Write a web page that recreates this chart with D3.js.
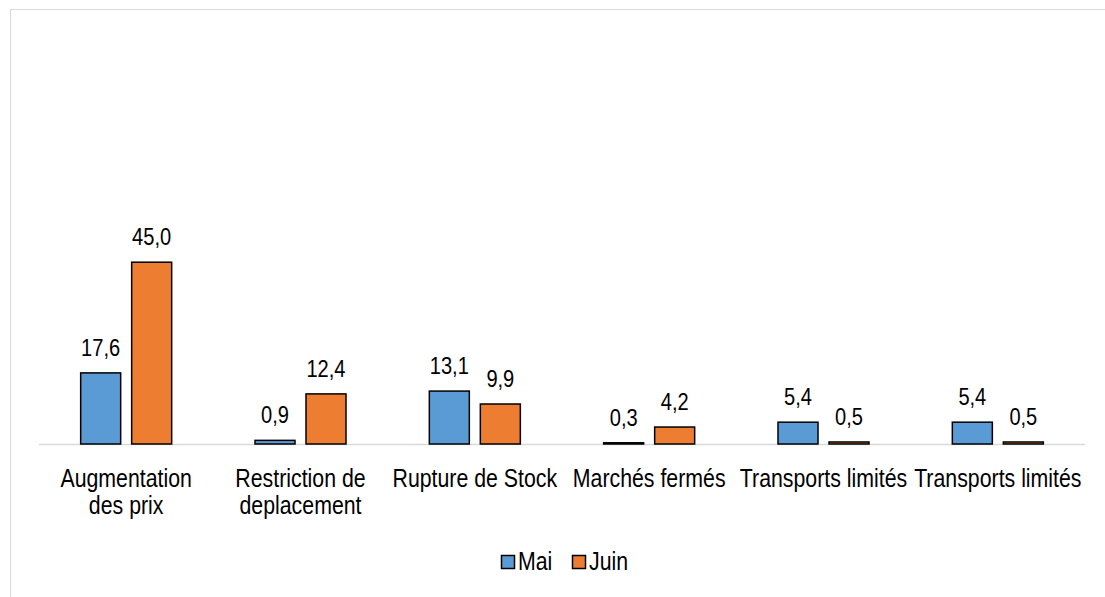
<!DOCTYPE html>
<html><head><meta charset="utf-8">
<script src="https://cdn.jsdelivr.net/npm/d3@7"></script>
<style>html,body{margin:0;padding:0;background:#fff;}svg{display:block;}</style>
</head><body>
<svg id="chart" width="1105" height="597"></svg>
<script>
const categories = ["Augmentation\ndes prix", "Restriction de\ndeplacement", "Rupture de Stock", "Marchés fermés", "Transports limités", "Transports limités "];
const seriesNames = ["Mai", "Juin"];
const maiValues = [17.6, 0.9, 13.1, 0.3, 5.4, 5.4];
const juinValues = [45.0, 12.4, 9.9, 4.2, 0.5, 0.5];
const seriesColors = ["#5b9bd5", "#ed7d31"];

const svg = d3.select("#chart");
// Narrow font emulated by horizontally condensing Liberation Sans
const font = "'Liberation Sans', Arial, sans-serif";
const narrow = 0.82;
const fsCat = 26;
const fsVal = 24.5;

// outer border
svg.append("rect").attr("x", 10.5).attr("y", 9.5).attr("width", 1200).attr("height", 700)
  .attr("fill", "none").attr("stroke", "#d9d9d9").attr("stroke-width", 1);

const baseY = 444;
const y = d3.scaleLinear().domain([0, 50]).range([baseY, baseY - 50 * 4.04]);
const x0 = d3.scaleBand().domain(d3.range(categories.length)).range([39, 1085]).padding(0);
const inner = 91;
const x1 = d3.scaleBand().domain(seriesNames).range([(x0.bandwidth() - inner) / 2, (x0.bandwidth() + inner) / 2]).paddingInner(11 / 51);

const data = categories.map((c, i) => ({cat: i, vals: [maiValues[i], juinValues[i]]}));

// baseline
svg.append("line").attr("x1", 39).attr("x2", 1085).attr("y1", baseY + 0.5).attr("y2", baseY + 0.5)
  .attr("stroke", "#d9d9d9").attr("stroke-width", 1.5);

const g = svg.selectAll("g.cat").data(data).enter().append("g")
  .attr("transform", d => `translate(${x0(d.cat)},0)`);

g.selectAll("rect").data(d => d.vals.map((v, k) => ({s: seriesNames[k], v, k}))).enter().append("rect")
  .attr("x", d => x1(d.s))
  .attr("y", d => y(d.v))
  .attr("width", x1.bandwidth())
  .attr("height", d => baseY - y(d.v))
  .attr("fill", d => seriesColors[d.k])
  .attr("stroke", "#000").attr("stroke-width", 1.5);

g.selectAll("text.val").data(d => d.vals.map((v, k) => ({s: seriesNames[k], v, k}))).enter().append("text")
  .attr("transform", d => `translate(${x1(d.s) + x1.bandwidth() / 2},${y(d.v) - 17}) scale(${narrow},1)`)
  .attr("text-anchor", "middle")
  .attr("font-family", font).attr("font-size", fsVal).attr("fill", "#000")
  .text(d => d3.format(".1f")(d.v).replace(".", ","));

// category labels
const xAxis = d3.axisBottom(d3.scaleBand().domain(d3.range(categories.length)).range([39, 1085]))
  .tickSize(0).tickFormat("");
const axG = svg.append("g").attr("transform", `translate(0,${baseY})`).call(xAxis);
axG.select(".domain").remove();
axG.selectAll(".tick").each(function(i) {
  const lines = categories[i].trim().split("\n");
  const t = d3.select(this).append("text")
    .attr("transform", `scale(${narrow},1)`)
    .attr("text-anchor", "middle").attr("font-family", font).attr("font-size", fsCat).attr("fill", "#000");
  lines.forEach((ln, j) => {
    t.append("tspan").attr("x", 0).attr("y", 43 + j * 27).text(ln);
  });
});

// legend
const legend = svg.append("g");
const legendItems = [{name: seriesNames[0], x: 501}, {name: seriesNames[1], x: 572}];
legendItems.forEach((it, k) => {
  legend.append("rect").attr("x", it.x + 0.5).attr("y", 555.5).attr("width", 13).attr("height", 13)
    .attr("fill", seriesColors[k]).attr("stroke", "#000").attr("stroke-width", 1.5);
  legend.append("text").attr("transform", `translate(${it.x + 17},570) scale(${narrow},1)`)
    .attr("font-family", font).attr("font-size", fsCat).attr("fill", "#000").text(it.name);
});
</script>
</body></html>
